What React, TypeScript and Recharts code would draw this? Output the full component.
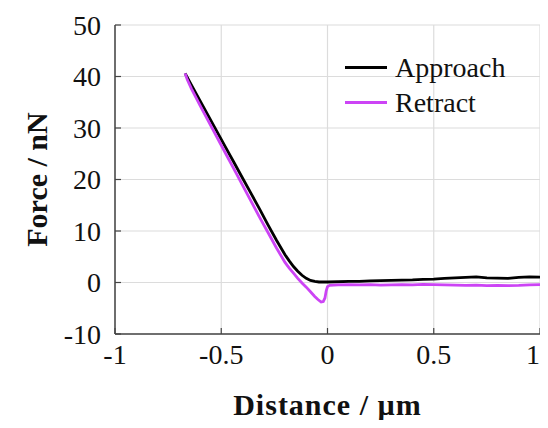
import React from 'react';
import { LineChart, Line, XAxis, YAxis, CartesianGrid, Label } from 'recharts';

const approachDistance = [
  -0.67, -0.64, -0.6, -0.56, -0.52, -0.48, -0.44, -0.4, -0.36, -0.32, -0.28, -0.24, -0.2, -0.18,
  -0.16, -0.14, -0.12, -0.1, -0.08, -0.06, -0.04, -0.02, 0, 0.05, 0.1, 0.15, 0.2, 0.25, 0.3,
  0.35, 0.4, 0.45, 0.5, 0.55, 0.6, 0.65, 0.7, 0.75, 0.8, 0.85, 0.9, 0.95, 1,
];
const approachForce = [
  40.6, 38.3, 35.3, 32.3, 29.3, 26.3, 23.3, 20.3, 17.3, 14.3, 11.2, 8.2, 5.4, 4.2,
  3.1, 2.2, 1.4, 0.8, 0.4, 0.2, 0.1, 0.1, 0.1, 0.15, 0.2, 0.2, 0.3, 0.35, 0.4,
  0.45, 0.5, 0.6, 0.65, 0.8, 0.9, 1.0, 1.1, 0.9, 0.85, 0.8, 1.0, 1.1, 1.05,
];

const retractDistance = [
  -0.67, -0.66, -0.64, -0.6, -0.56, -0.52, -0.48, -0.44, -0.4, -0.36, -0.32, -0.28, -0.24, -0.2,
  -0.18, -0.16, -0.14, -0.12, -0.1, -0.08, -0.06, -0.045, -0.03, -0.02, -0.012, -0.006, 0, 0.01,
  0.05, 0.1, 0.15, 0.2, 0.25, 0.3, 0.35, 0.4, 0.45, 0.5, 0.55, 0.6, 0.65, 0.7, 0.75, 0.8, 0.85,
  0.9, 0.95, 1,
];
const retractForce = [
  40.6, 39.4, 37.6, 34.4, 31.3, 28.2, 25.1, 22.0, 18.9, 15.8, 12.7, 9.7, 6.7, 3.9,
  2.8, 1.8, 0.8, -0.1, -0.9, -1.8, -2.7, -3.3, -3.8, -3.7, -3.0, -1.6, -0.8, -0.55,
  -0.45, -0.4, -0.45, -0.4, -0.5, -0.45, -0.4, -0.45, -0.35, -0.4, -0.45, -0.5, -0.55, -0.5, -0.6, -0.55, -0.6,
  -0.55, -0.45, -0.4,
];

const xTicks = [-1, -0.5, 0, 0.5, 1];
const yTicks = [-10, 0, 10, 20, 30, 40, 50];

const approach = approachDistance.map((d, i) => ({ d, f: approachForce[i] }));
const retract = retractDistance.map((d, i) => ({ d, f: retractForce[i] }));

const font = '"Liberation Serif", serif';
const tickStyle = { fontFamily: font, fontSize: 28, fill: '#111' };
const series = [
  { name: 'Approach', color: '#000' },
  { name: 'Retract', color: '#cc44f5' },
];

export default function App() {
  return (
    <div style={{ position: 'relative', width: 532, height: 412 }}>
      <style>{'.recharts-surface { overflow: visible; } .recharts-wrapper { overflow: visible; }'}</style>
      <LineChart width={532} height={412} margin={{ top: 17, right: 0, left: 0, bottom: 0 }}>
        <CartesianGrid stroke="#dcdcdc" strokeWidth={1.2} horizontalValues={yTicks} verticalValues={xTicks} />
        <XAxis
          type="number"
          dataKey="d"
          domain={[-1, 1]}
          ticks={xTicks}
          height={86}
          tick={tickStyle}
          tickSize={-6}
          tickMargin={16}
          axisLine={{ stroke: '#444', strokeWidth: 1.5 }}
          tickLine={{ stroke: '#444', strokeWidth: 1.2 }}
          allowDataOverflow
        >
          <Label
            value="Distance / µm"
            position="insideBottom"
            offset={5}
            style={{ fontFamily: font, fontSize: 30, fontWeight: 'bold', fill: '#111', letterSpacing: 1 }}
          />
        </XAxis>
        <YAxis
          type="number"
          domain={[-10, 50]}
          ticks={yTicks}
          width={107}
          tick={tickStyle}
          tickSize={-6}
          tickMargin={20}
          axisLine={{ stroke: '#444', strokeWidth: 1.5 }}
          tickLine={{ stroke: '#444', strokeWidth: 1.2 }}
          allowDataOverflow
        >
          <Label
            value="Force / nN"
            angle={-90}
            position="insideLeft"
            offset={28}
            style={{ fontFamily: font, fontSize: 30, fontWeight: 'bold', fill: '#111', textAnchor: 'middle' }}
          />
        </YAxis>
        <Line
          data={approach}
          dataKey="f"
          name="Approach"
          stroke="#000"
          strokeWidth={2.8}
          dot={false}
          type="linear"
          isAnimationActive={false}
        />
        <Line
          data={retract}
          dataKey="f"
          name="Retract"
          stroke="#cc44f5"
          strokeWidth={2.8}
          dot={false}
          type="linear"
          isAnimationActive={false}
        />
      </LineChart>
      <div
        style={{
          position: 'absolute',
          left: 337,
          top: 42,
          fontFamily: font,
          fontSize: 28,
          color: '#111',
          lineHeight: '35px',
        }}
      >
        {series.map((s) => (
          <div key={s.name} style={{ display: 'flex', alignItems: 'center' }}>
            <span style={{ display: 'inline-block', width: 42, height: 3, background: s.color, marginRight: 8 }} />
            {s.name}
          </div>
        ))}
      </div>
    </div>
  );
}
